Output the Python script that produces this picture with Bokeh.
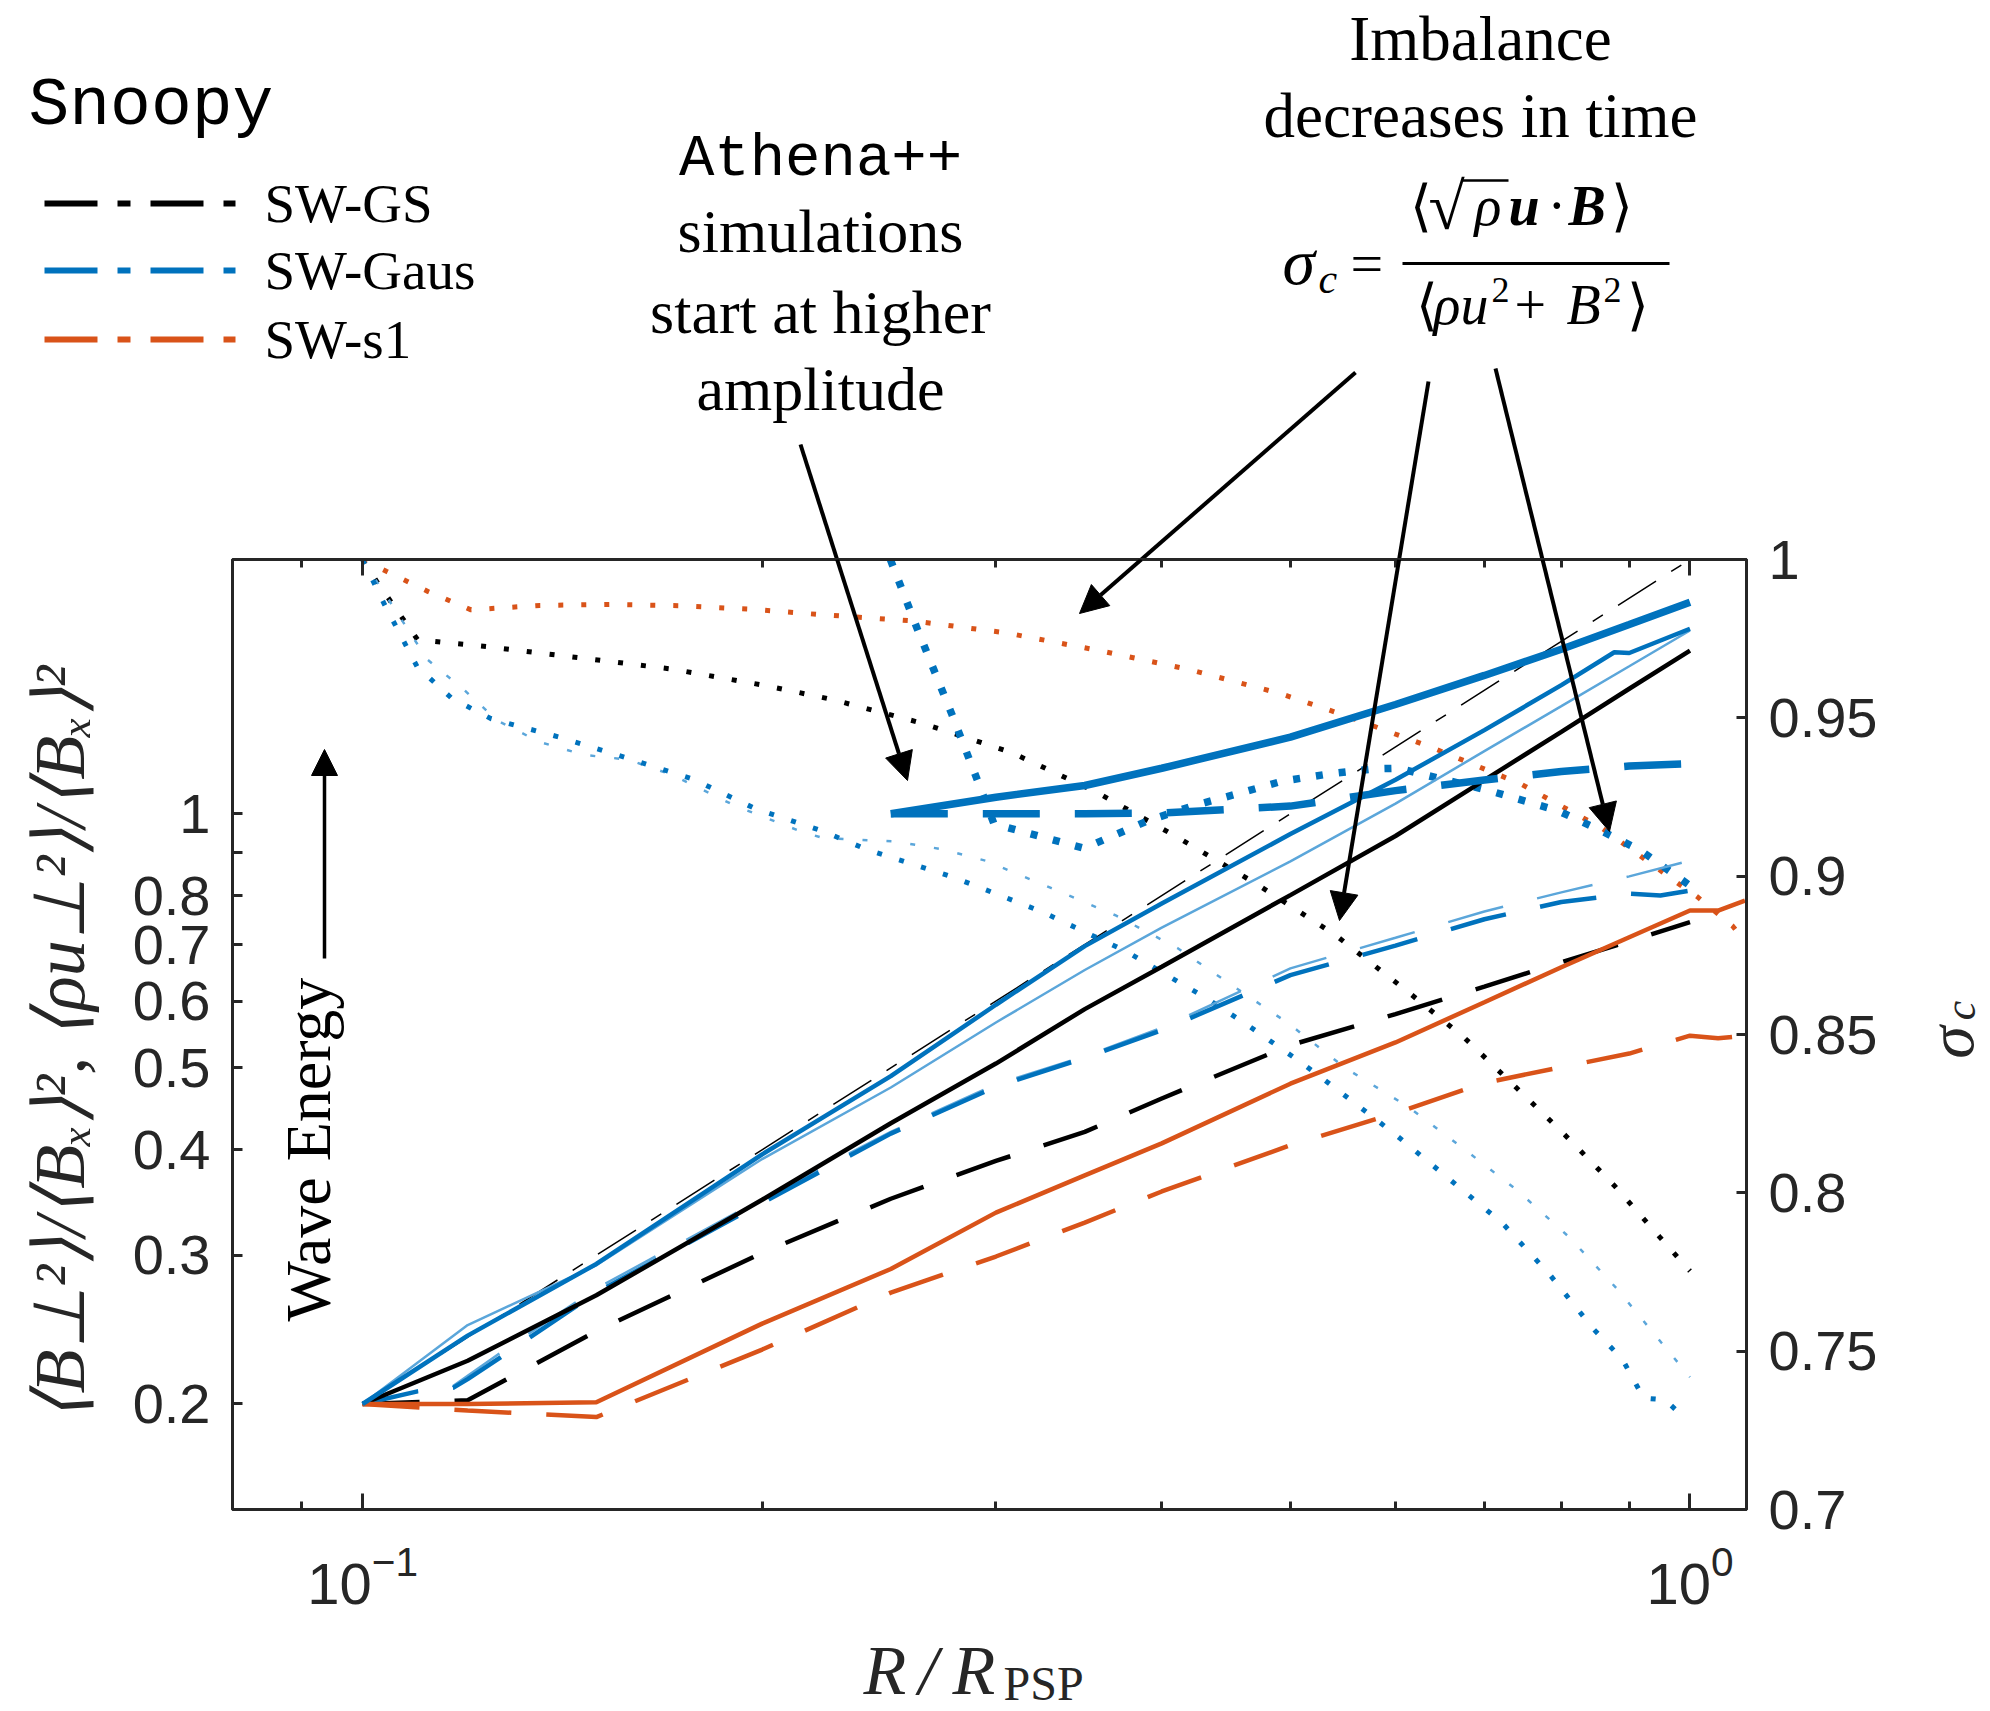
import math
from bokeh.plotting import figure
from bokeh.layouts import column, row
from bokeh.models import (Range1d, LinearAxis, LogAxis, LinearScale, FixedTicker, Label, Arrow,
                          NormalHead)
from bokeh.embed import file_html
from bokeh.resources import INLINE

# ---------------- data ----------------
# wave energy <B_perp^2>/<B_x>^2 (solid) and <rho u_perp^2>/<B_x>^2 (dashed) vs R/R_PSP
r_snoopy = [0.1, 0.12, 0.15, 0.2, 0.25, 0.3, 0.35, 0.4, 0.5, 0.6, 0.7, 0.8, 0.9, 1.0]
gs_b = [0.2, 0.225, 0.269, 0.349, 0.43, 0.506, 0.587, 0.659, 0.801, 0.941, 1.096, 1.25, 1.406, 1.56]
gs_u = [0.2, 0.202, 0.244, 0.302, 0.35, 0.388, 0.42, 0.46, 0.532, 0.579, 0.624, 0.667, 0.706, 0.744]

r_gaus_b = [0.1, 0.12, 0.15, 0.2, 0.25, 0.3, 0.35, 0.4, 0.5, 0.6, 0.7, 0.8, 0.877, 0.9, 1.0]
gaus_b = [0.2, 0.241, 0.293, 0.395, 0.489, 0.594, 0.697, 0.783, 0.946, 1.097, 1.256, 1.42, 1.553, 1.55, 1.656]
r_gaus_u = [0.1, 0.11, 0.117, 0.12, 0.128, 0.15, 0.2, 0.25, 0.3, 0.35, 0.4, 0.5, 0.6, 0.7, 0.8, 0.9, 0.95, 1.0]
gaus_u = [0.2, 0.207, 0.209, 0.214, 0.229, 0.271, 0.346, 0.418, 0.475, 0.514, 0.554, 0.644, 0.698, 0.75, 0.786, 0.804, 0.8, 0.811]

# second (light blue) SW-Gaus run
gaus2_b = [0.2, 0.248, 0.292, 0.39, 0.474, 0.566, 0.653, 0.733, 0.878, 1.028, 1.186, 1.341, 1.495, 1.648]
r_gaus2_u = [0.1, 0.11, 0.117, 0.12, 0.128, 0.15, 0.2, 0.25, 0.3, 0.35, 0.4, 0.5, 0.6, 0.7, 0.8, 0.9, 1.0]
gaus2_u = [0.2, 0.207, 0.21, 0.216, 0.232, 0.274, 0.35, 0.42, 0.478, 0.516, 0.558, 0.656, 0.713, 0.766, 0.807, 0.843, 0.88]

r_s1 = [0.1, 0.12, 0.15, 0.2, 0.25, 0.3, 0.35, 0.4, 0.5, 0.6, 0.7, 0.8, 0.9, 1.0, 1.05, 1.1]
s1_b = [0.2, 0.2, 0.201, 0.249, 0.289, 0.337, 0.373, 0.407, 0.479, 0.536, 0.598, 0.658, 0.714, 0.768, 0.768, 0.789]
s1_u = [0.2, 0.1965, 0.193, 0.232, 0.271, 0.299, 0.328, 0.357, 0.405, 0.442, 0.48, 0.501, 0.52, 0.546, 0.542, 0.546]

# Athena++ runs (start at higher amplitude)
r_athena = [0.25, 0.3, 0.35, 0.4, 0.5, 0.6, 0.7, 0.8, 0.9, 1.0]
athena_b = [1.0, 1.046, 1.08, 1.132, 1.232, 1.347, 1.458, 1.566, 1.675, 1.78]
athena_u = [1.0, 1.0, 1.0, 1.002, 1.021, 1.065, 1.096, 1.122, 1.139, 1.146]

# reference slope line
r_ref = [0.1, 1.0]
ref = [0.2, 2.0]

# cross helicity sigma_c (dotted, right axis)
r_gs_sig = [0.1, 0.1025, 0.11, 0.124, 0.1455, 0.171, 0.2005, 0.2258, 0.264, 0.308, 0.3566, 0.411,
            0.472, 0.541, 0.6143, 0.676, 0.737, 0.805, 0.876, 0.949, 1.0]
gs_sig = [1.0, 0.993, 0.9747, 0.9725, 0.969, 0.9654, 0.9603, 0.9558, 0.9483, 0.9391, 0.9267, 0.9123,
          0.8974, 0.8813, 0.8632, 0.849, 0.8339, 0.8183, 0.8025, 0.786, 0.7753]
r_s1_sig = [0.1, 0.1042, 0.112, 0.1207, 0.136, 0.1537, 0.1735, 0.196, 0.2213, 0.26, 0.3056, 0.3583,
            0.42, 0.491, 0.55, 0.641, 0.745, 0.858, 0.979, 1.012, 1.077, 1.1]
s1_sig = [1.0, 0.9963, 0.9899, 0.9841, 0.9855, 0.9858, 0.9854, 0.9843, 0.9826, 0.9806, 0.9768, 0.9713,
          0.9652, 0.9577, 0.9507, 0.9404, 0.9292, 0.9152, 0.8978, 0.8936, 0.8842, 0.8794]
r_gaus_sig = [0.1, 0.1039, 0.1099, 0.1167, 0.125, 0.1407, 0.158, 0.1773, 0.1979, 0.2222, 0.2392, 0.2793,
              0.3248, 0.3762, 0.4329, 0.4626, 0.5105, 0.5453, 0.6, 0.6584, 0.7224, 0.7843, 0.8458,
              0.8895, 0.9226, 0.958, 0.987]
gaus_sig = [1.0, 0.9857, 0.9662, 0.9562, 0.9497, 0.9439, 0.9374, 0.9307, 0.9212, 0.9142, 0.9086, 0.8995,
            0.8888, 0.8762, 0.8613, 0.8534, 0.8409, 0.8318, 0.8184, 0.8044, 0.7904, 0.7741, 0.757,
            0.7474, 0.7352, 0.7346, 0.7295]
r_gaus2_sig = [0.1, 0.1119, 0.1192, 0.1263, 0.1357, 0.1467, 0.1586, 0.1715, 0.1911, 0.214, 0.2225, 0.2513,
               0.2725, 0.2946, 0.33, 0.3693, 0.411, 0.452, 0.4987, 0.55, 0.6126, 0.674, 0.7414, 0.811,
               0.881, 0.952, 1.0]
gaus2_sig = [1.0, 0.9684, 0.9589, 0.9492, 0.9425, 0.9383, 0.9368, 0.9318, 0.9221, 0.9141, 0.912, 0.911,
             0.9086, 0.9049, 0.8963, 0.8876, 0.8773, 0.8655, 0.8534, 0.8394, 0.8273, 0.8142, 0.8007,
             0.786, 0.7697, 0.7526, 0.7418]
r_athena_sig = [0.2498, 0.2618, 0.278, 0.2907, 0.299, 0.3495, 0.391, 0.423, 0.456, 0.493, 0.535, 0.578,
                0.604, 0.627, 0.706, 0.795, 0.854, 0.918, 0.981, 1.0]
athena_sig = [1.0, 0.978, 0.951, 0.93, 0.9165, 0.9088, 0.9176, 0.9223, 0.926, 0.93, 0.9323, 0.9339,
              0.9341, 0.9323, 0.927, 0.9207, 0.9147, 0.9081, 0.8995, 0.897]

# axes limits / ticks / labels
x_lim = (0.0798, 1.103)
y_lim = (0.15, 2.0)
sig_lim = (0.7, 1.0)
x_major = [0.1, 1.0]
x_minor = [0.09, 0.2, 0.3, 0.4, 0.5, 0.6, 0.7, 0.8, 0.9]
y_ticks = [0.2, 0.3, 0.4, 0.5, 0.6, 0.7, 0.8, 1.0]
y_tick_labels = ["0.2", "0.3", "0.4", "0.5", "0.6", "0.7", "0.8", "1"]
y_minor = [0.9]
sig_ticks = [0.7, 0.75, 0.8, 0.85, 0.9, 0.95, 1.0]
sig_tick_labels = ["0.7", "0.75", "0.8", "0.85", "0.9", "0.95", "1"]
legend_names = ["SW-GS", "SW-Gaus", "SW-s1"]

# ---------------- styles / layout geometry ----------------
BLACK = "#000000"
BLUE = "#0072BD"
ORANGE = "#D95319"
LBLUE = "#5BA6DA"
AXC = "#262626"
SERIF = "Liberation Serif"
SANS = "Liberation Sans"
MONO = "Liberation Mono"
MID = {SERIF: 0.3375, SANS: 0.3465, MONO: 0.2665}   # baseline -> middle of text box (em)
DASH = "57 35"
DOT = "5 18"

W, H = 1990, 1711
FL, FR, FT, FB = 232, 1746, 559, 1509   # axes frame in page pixels
TOP_H = FT                       # annotation strip above the axes
OVER = 40                        # main axes border overlapping the strip (transparent)
RIGHT_W = 85                     # strip for the sigma_c title
BOT_B = 120                      # border under the frame for tick labels
MAIN_W = W - RIGHT_W
MAIN_H = OVER + (FB - FT) + BOT_B
BOT_H = H - TOP_H - (MAIN_H - OVER)


def plain(width, height, x0, x1, y_bottom, y_top, top_b=0, bot_b=0, fill="white"):
    f = figure(width=width, height=height, x_range=Range1d(x0, x1), y_range=Range1d(y_bottom, y_top),
               output_backend="svg", toolbar_location=None, x_axis_location=None, y_axis_location=None,
               min_border=0, min_border_left=0, min_border_right=0, min_border_top=top_b,
               min_border_bottom=bot_b)
    f.grid.visible = False
    f.outline_line_color = None
    f.background_fill_color = fill
    f.border_fill_color = None
    return f


def lab(f, text, x, y, size, font=SERIF, style="normal", align="left", angle=0.0, color=BLACK,
        base=True):
    # y is the text baseline (base=True) or the text-box middle (base=False)
    ym = y - MID[font] * size if base else y
    f.add_layout(Label(x=x, y=ym, text=text, text_font=font, text_font_size=f"{size}px",
                       text_font_style=style, text_align=align, text_baseline="middle",
                       angle=angle, text_color=color))


def seg(f, x0, y0, x1, y1, width=4.0, head=True, dash="solid", color=BLACK, size=28):
    f.add_layout(Arrow(x_start=x0, y_start=y0, x_end=x1, y_end=y1,
                       line_width=width, line_color=color, line_dash=dash,
                       end=NormalHead(size=size, fill_color=color, line_color=color) if head else None))


# ---------------- main axes ----------------
p = figure(width=MAIN_W, height=MAIN_H, x_axis_type="log", y_axis_type="log",
           x_range=Range1d(*x_lim), y_range=Range1d(*y_lim),
           output_backend="svg", toolbar_location=None,
           min_border_left=FL, min_border_right=MAIN_W - FR, min_border_top=OVER,
           min_border_bottom=BOT_B)
p.extra_y_ranges = {"sig": Range1d(*sig_lim)}
p.extra_y_scales = {"sig": LinearScale()}
p.grid.visible = False
p.outline_line_color = AXC
p.outline_line_width = 3
p.background_fill_color = "white"
p.border_fill_color = None

xa = p.below[0]
xa.ticker = FixedTicker(ticks=x_major, minor_ticks=x_minor)
xa.major_tick_in = 16
xa.major_tick_out = 0
xa.minor_tick_in = 8
xa.minor_tick_out = 0
xa.axis_line_width = 3
xa.axis_line_color = AXC
xa.major_tick_line_width = 3
xa.minor_tick_line_width = 3
xa.major_tick_line_color = AXC
xa.minor_tick_line_color = AXC
xa.major_label_text_font = SANS
xa.major_label_text_font_size = "58px"
xa.major_label_text_color = AXC
xa.major_label_standoff = 36

xt = LogAxis(ticker=FixedTicker(ticks=x_major, minor_ticks=x_minor),
             major_label_overrides={v: "" for v in x_major}, major_label_text_font_size="0px",
             major_label_standoff=0,
             major_tick_in=16, major_tick_out=0, minor_tick_in=8, minor_tick_out=0,
             axis_line_width=3, axis_line_color=AXC, major_tick_line_width=3, minor_tick_line_width=3,
             major_tick_line_color=AXC, minor_tick_line_color=AXC)
p.add_layout(xt, "above")

ya = p.left[0]
ya.ticker = FixedTicker(ticks=y_ticks, minor_ticks=y_minor)
ya.major_label_overrides = dict(zip(y_ticks, y_tick_labels))
ya.major_tick_in = 10
ya.major_tick_out = 0
ya.minor_tick_in = 10
ya.minor_tick_out = 0
ya.axis_line_width = 3
ya.axis_line_color = AXC
ya.major_tick_line_width = 3
ya.minor_tick_line_width = 3
ya.major_tick_line_color = AXC
ya.minor_tick_line_color = AXC
ya.major_label_text_font = SANS
ya.major_label_text_font_size = "56px"
ya.major_label_text_color = AXC
ya.major_label_standoff = 22
ya.axis_label = ("\u27e8B\u22a5\u00b2\u27e9/\u27e8B\u2093\u27e9\u00b2,  "
                 "\u27e8\u03c1u\u22a5\u00b2\u27e9/\u27e8B\u2093\u27e9\u00b2")
ya.axis_label_text_font = SERIF
ya.axis_label_text_font_style = "italic"
ya.axis_label_text_font_size = "72px"
ya.axis_label_text_color = AXC
ya.axis_label_standoff = 30

yr = LinearAxis(y_range_name="sig", ticker=FixedTicker(ticks=sig_ticks),
                major_label_overrides=dict(zip(sig_ticks, sig_tick_labels)),
                major_tick_in=10, major_tick_out=0, minor_tick_in=0, minor_tick_out=0,
                axis_line_width=3, axis_line_color=AXC, major_tick_line_width=3,
                major_tick_line_color=AXC, major_label_text_font=SANS,
                major_label_text_font_size="56px", major_label_text_color=AXC,
                major_label_standoff=22)
p.add_layout(yr, "right")

# data lines
p.line(r_ref, ref, line_color=BLACK, line_width=1.5, line_dash="45 18 12 18")

p.line(r_gs_sig, gs_sig, y_range_name="sig", line_color=BLACK, line_width=5, line_dash=DOT)
p.line(r_s1_sig, s1_sig, y_range_name="sig", line_color=ORANGE, line_width=5, line_dash=DOT)
p.line(r_gaus2_sig, gaus2_sig, y_range_name="sig", line_color=LBLUE, line_width=2.5, line_dash="5 19")
p.line(r_gaus_sig, gaus_sig, y_range_name="sig", line_color=BLUE, line_width=5, line_dash=DOT)
p.line(r_athena_sig, athena_sig, y_range_name="sig", line_color=BLUE, line_width=7.5, line_dash="7 16")

p.line(r_snoopy, gs_u, line_color=BLACK, line_width=4.5, line_dash=DASH)
p.line(r_s1, s1_u, line_color=ORANGE, line_width=4.5, line_dash=DASH)
p.line(r_gaus2_u, gaus2_u, line_color=LBLUE, line_width=2.5, line_dash=DASH)
p.line(r_gaus_u, gaus_u, line_color=BLUE, line_width=4.5, line_dash=DASH)

p.line(r_snoopy, gs_b, line_color=BLACK, line_width=4.5)
p.line(r_s1, s1_b, line_color=ORANGE, line_width=4.5)
p.line(r_snoopy, gaus2_b, line_color=LBLUE, line_width=2.5)
p.line(r_gaus_b, gaus_b, line_color=BLUE, line_width=4.5)

p.line(r_athena, athena_u, line_color=BLUE, line_width=7.5, line_dash=DASH)
p.line(r_athena, athena_b, line_color=BLUE, line_width=7.5)


# page pixel -> main-axes data coordinates (for annotations inside the axes)
def X(px):
    return x_lim[0] * (x_lim[1] / x_lim[0]) ** ((px - FL) / (FR - FL))


def Y(py):
    return y_lim[0] * (y_lim[1] / y_lim[0]) ** ((FB - py) / (FB - FT))


lab(p, "Wave Energy", X(308), Y(1149), 64, align="center", angle=math.pi / 2, base=False)
seg(p, X(324), Y(958), X(324), Y(749), width=3.5, size=26)

# ---------------- annotation strip above the axes (page-pixel coordinates) ----------------
top = plain(W, TOP_H, 0, W, TOP_H, 0)

lab(top, "Snoopy", 28, 123, 68, font=MONO)
for name, col, yy in zip(legend_names, [BLACK, BLUE, ORANGE], [203, 270, 339]):
    seg(top, 44, yy, 235, yy, width=6, head=False, dash="53 20 13 20", color=col)
    lab(top, name, 264, yy + 19, 55)

lab(top, "Athena++", 820, 175, 59, font=MONO, align="center")
lab(top, "simulations", 820, 251, 62, align="center")
lab(top, "start at higher", 820, 332, 62, align="center")
lab(top, "amplitude", 820, 409, 62, align="center")

lab(top, "Imbalance", 1480, 60, 63, align="center")
lab(top, "decreases in time", 1480, 137, 63, align="center")
# sigma_c = <sqrt(rho) u . B> / <rho u^2 + B^2>
lab(top, "\u03c3", 1282, 283, 66, style="italic")
lab(top, "c", 1318, 293, 42, style="italic")
lab(top, "=", 1350, 283, 58)
seg(top, 1402, 263, 1669, 263, width=3, head=False)
lab(top, "\u27e8", 1409, 224, 56)
lab(top, "\u221a", 1428, 228, 66)
seg(top, 1461, 180, 1508, 180, width=2.5, head=False)
lab(top, "\u03c1", 1474, 224, 56, style="italic")
lab(top, "u", 1508, 224, 56, style="bold italic")
lab(top, "\u00b7", 1547, 224, 56)
lab(top, "B", 1568, 224, 56, style="bold italic")
lab(top, "\u27e9", 1610, 224, 56)
lab(top, "\u27e8", 1415, 323, 56)
lab(top, "\u03c1u", 1433, 323, 56, style="italic")
lab(top, "2", 1491, 302, 36)
lab(top, "+", 1514, 323, 56)
lab(top, "B", 1566, 323, 56, style="italic")
lab(top, "2", 1603, 302, 36)
lab(top, "\u27e9", 1626, 323, 56)

# arrows: drawn in the strip down to its lower edge, then continued inside the axes
arrows = [((800, 444), (907, 780)), ((1355, 372), (1079, 613)),
          ((1428, 381), (1339, 920)), ((1495, 368), (1609, 831))]
for (x0, y0), (x1, y1) in arrows:
    t = (TOP_H - y0) / (y1 - y0)
    xc = x0 + t * (x1 - x0)
    seg(top, x0, y0, xc, TOP_H, head=False)
    seg(p, X(xc), Y(TOP_H), X(x1), Y(y1))

# ---------------- sigma_c title strip (right) ----------------
side = plain(RIGHT_W, MAIN_H, MAIN_W, W, FB, FT, top_b=OVER, bot_b=BOT_B, fill=None)
lab(side, "\u03c3", 1950, 1042, 66, style="italic", align="center", angle=math.pi / 2, color=AXC,
    base=False)
lab(side, "c", 1960, 1010, 44, style="italic", align="center", angle=math.pi / 2, color=AXC,
    base=False)

# ---------------- x-axis title strip (bottom) ----------------
bot = plain(W, BOT_H, 0, W, H, H - BOT_H)
lab(bot, "R", 863, 1694, 70, style="italic", color=AXC)
lab(bot, "/", 918, 1694, 70, style="italic", color=AXC)
lab(bot, "R", 952, 1694, 70, style="italic", color=AXC)
lab(bot, "PSP", 1003, 1699, 48, color=AXC)

layout = column(top, row(p, side, margin=(-OVER, 0, 0, 0)), bot)
open("out.html", "w").write(file_html(layout, INLINE))
